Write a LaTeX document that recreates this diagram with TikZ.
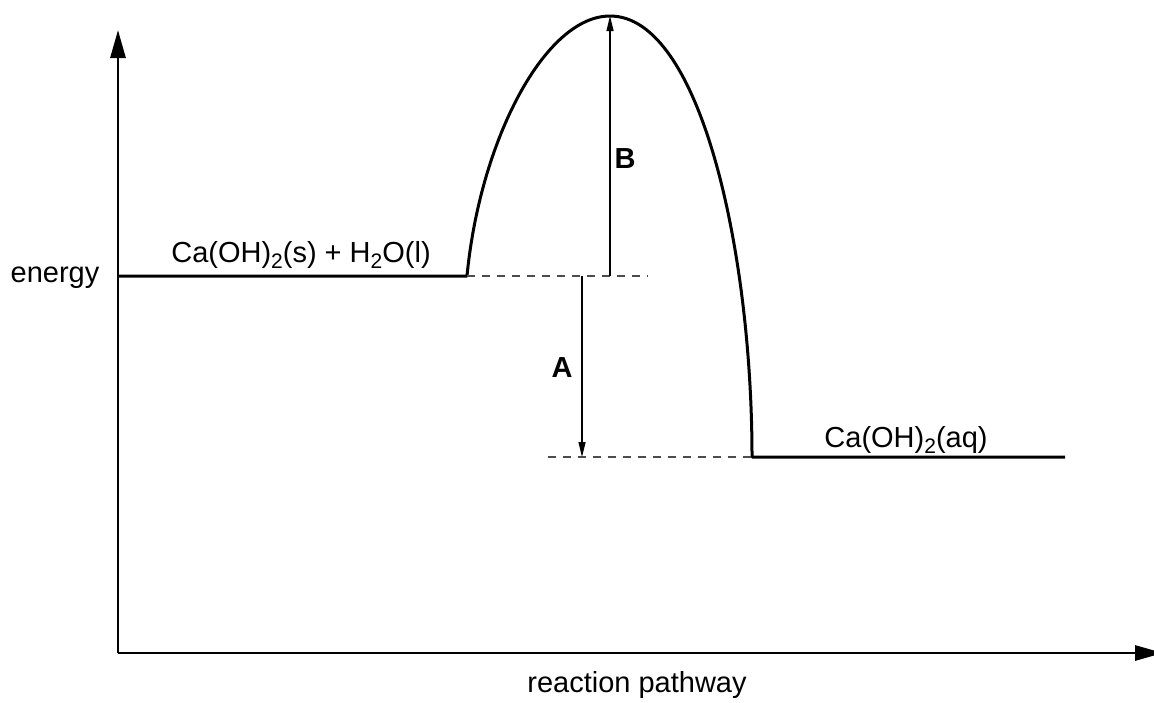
\documentclass[tikz,border=0pt]{standalone}
\usepackage{fontspec}
\setmainfont{Liberation Sans}
\usetikzlibrary{arrows.meta}

\newcommand{\chemsub}[1]{\raisebox{-3pt}{\fontsize{10.5}{12}\selectfont #1}}

\tikzset{
    axis/.style={line width=1.4pt, -{Triangle[length=14pt, width=7.5pt]}},
    level/.style={line width=1.5pt},
    guide/.style={line width=0.55pt, black!70, dash pattern=on 4pt off 3.5pt},
    gap/.style={line width=0.6pt, -{Triangle[length=7.5pt, width=3.5pt]}},
    lbl/.style={anchor=base, inner sep=0pt, font=\fontsize{14.5}{17}\selectfont},
}

\begin{document}
\begin{tikzpicture}[x=0.5pt, y=-0.5pt]
    % frame of the reference picture
    \useasboundingbox (0,0) rectangle (1154,702);

    % Axes
    \coordinate (origin) at (118,653);
    \coordinate (ytop) at (118,30);
    \coordinate (xend) at (1163,653);
    \draw[axis] (origin) -- (ytop);
    \draw[axis] (origin) -- (xend);

    % Energy profile
    \coordinate (react start) at (118,276);
    \coordinate (react end) at (467,276);
    \coordinate (peak) at (610,16);
    \coordinate (prod start) at (752,457);
    \coordinate (prod end) at (1065,457);
    \draw[level, line join=round] (react start) -- (react end)
        .. controls (480,140) and (545,16) .. (peak)
        .. controls (700,16) and (752,250) .. (prod start) -- (prod end);

    % Dashed guide lines
    \coordinate (guide top end) at (648,276);
    \coordinate (guide low start) at (548,457);
    \draw[guide] (react end) -- (guide top end);
    \draw[guide] (guide low start) -- (prod start);

    % Arrows A and B
    \coordinate (b foot) at (610,276);
    \coordinate (a top) at (582,276);
    \coordinate (a foot) at (582,457);
    \draw[gap] (b foot) -- (peak);
    \draw[gap] (a top) -- (a foot);

    % Labels
    \node[lbl] (energy) at (55,282) {energy};
    \node[lbl] (reactants) at (301,262) {Ca(OH)\chemsub{2}(s) + H\chemsub{2}O(l)};
    \node[lbl] (products) at (906,447) {Ca(OH)\chemsub{2}(aq)};
    \node[lbl] (pathway) at (637,692) {reaction pathway};
    \node[lbl, font=\fontsize{14.5}{17}\selectfont\bfseries] (A) at (562,377) {A};
    \node[lbl, font=\fontsize{14.5}{17}\selectfont\bfseries] (B) at (625,168) {B};
\end{tikzpicture}
\end{document}
